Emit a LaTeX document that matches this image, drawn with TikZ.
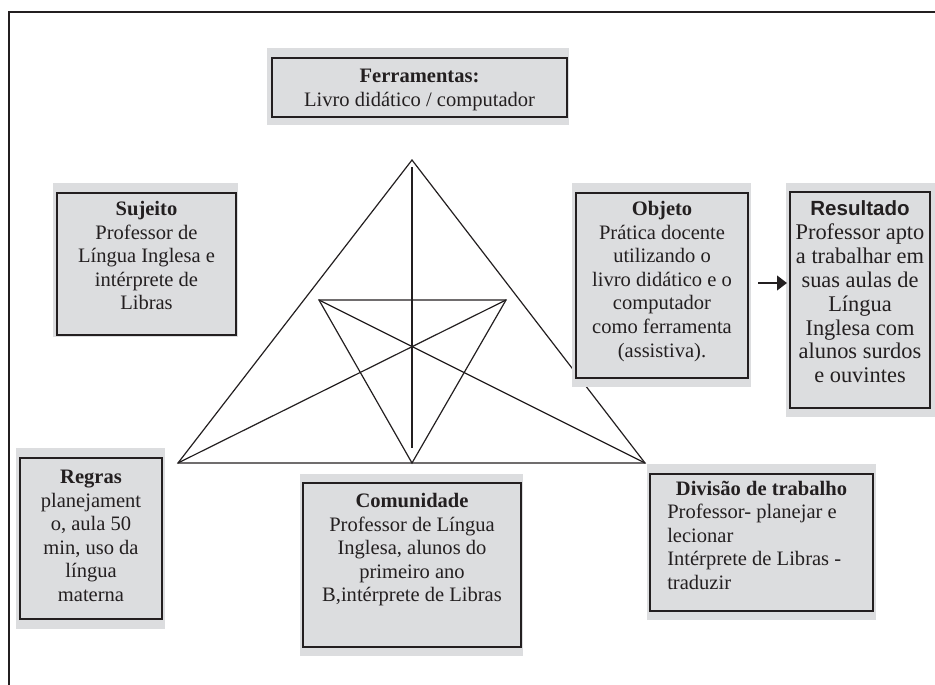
\documentclass[tikz,border=0pt]{standalone}
\usepackage{fontspec}
\setmainfont{Liberation Serif}
\newfontfamily\headsans{Liberation Sans}
\usetikzlibrary{arrows.meta,fit}
\definecolor{ink}{RGB}{35,31,32}
\definecolor{panel}{RGB}{220,221,223}

\begin{document}
\begin{tikzpicture}[x=0.75pt,y=-0.75pt,
  halo/.style={fill=panel, draw=none, inner sep=0pt},
  boxframe/.style={draw=ink, line width=1.7pt, inner sep=0pt},
  boxtext/.style={text=ink, inner sep=0pt, align=center,
    font=\fontsize{15.4}{17.7}\selectfont, anchor=north},
  bigtext/.style={boxtext, font=\fontsize{16.8}{17.9}\selectfont},
  bodytext/.style={boxtext, align=left, anchor=north west},
  web/.style={draw=ink, line width=0.9pt},
  flow/.style={draw=ink, line width=1.6pt,
    -{Triangle[length=7.5pt,width=11pt]}},
]
\useasboundingbox (0,0) rectangle (935,685);

% page frame (top and left edges)
\coordinate (fbl) at (9,685);
\coordinate (ftl) at (9,12);
\coordinate (ftr) at (935,12);
\draw[ink, line width=1.6pt] (fbl) -- (ftl) -- (ftr);

% activity triangle
\coordinate (apex) at (412,160);
\coordinate (bl)   at (178,463);
\coordinate (br)   at (645,463);
\coordinate (bm)   at (412,463);
\coordinate (il)   at (319,300);
\coordinate (ir)   at (506,300);
\coordinate (vtop) at (412,167);
\coordinate (vbot) at (412,448);

\path[web] (bl) -- (apex) -- (br) -- cycle;
\path[web] (il) -- (ir) -- (bm) -- cycle;
\path[web] (bl) -- (ir);
\path[web] (br) -- (il);
\path[web] (vtop) -- (vbot);

% shaded panels behind the boxes
\node[halo, fit={(267,48) (569,125)}]  (ferrh) {};
\node[halo, fit={(53,183) (238,337)}]  (sujh)  {};
\node[halo, fit={(572,183) (751,387)}] (objh)  {};
\node[halo, fit={(786,183) (935,417)}] (resh)  {};
\node[halo, fit={(16,448) (165,629)}]  (regh)  {};
\node[halo, fit={(300,474) (523,656)}] (comh)  {};
\node[halo, fit={(647,464) (876,620)}] (divh)  {};

% box outlines
\node[boxframe, fit={(272,58) (567,117)}]  (ferr) {};
\node[boxframe, fit={(57,193) (236,335)}]  (suj)  {};
\node[boxframe, fit={(576,193) (748,378)}] (obj)  {};
\node[boxframe, fit={(790,192) (930,408)}] (res)  {};
\node[boxframe, fit={(20,458) (162,619)}]  (reg)  {};
\node[boxframe, fit={(303,483) (521,647)}] (com)  {};
\node[boxframe, fit={(650,474) (873,611)}] (div)  {};

% box texts
\node[boxtext] (ferrt) at (419.5,65.7)
  {\strut\textbf{Ferramentas:}\\Livro didático / computador};
\node[boxtext] (sujt) at (146.5,198.7)
  {\strut\textbf{Sujeito}\\Professor de\\Língua Inglesa e\\intérprete de\\Libras};
\node[boxtext] (objt) at (662,198.7)
  {\strut\textbf{Objeto}\\Prática docente\\utilizando o\\livro didático e o\\computador\\como ferramenta\\(assistiva).};
\node[bigtext] (rest) at (860,198.7)
  {\strut{\fontsize{15.4}{17.9}\selectfont\headsans\bfseries Resultado}\\Professor apto\\a trabalhar em\\suas aulas de\\Língua\\Inglesa com\\alunos surdos\\e ouvintes};
\node[boxtext] (regt) at (91,466.7)
  {\strut\textbf{Regras}\\planejament\\o, aula 50\\min, uso da\\língua\\materna};
\node[boxtext] (comt) at (412,490.7)
  {\strut\textbf{Comunidade}\\Professor de Língua\\Inglesa, alunos do\\primeiro ano\\B,intérprete de Libras};
\node[boxtext] (divt) at (761.5,478.7)
  {\strut\textbf{Divisão de trabalho}};
\node[bodytext] (divb) at (667,501.7)
  {\strut Professor- planejar e\\lecionar\\Intérprete de Libras -\\traduzir};

% object leads to outcome
\coordinate (arrs) at (758,283);
\coordinate (arre) at (787,283);
\path[flow] (arrs) -- (arre);
\end{tikzpicture}
\end{document}
